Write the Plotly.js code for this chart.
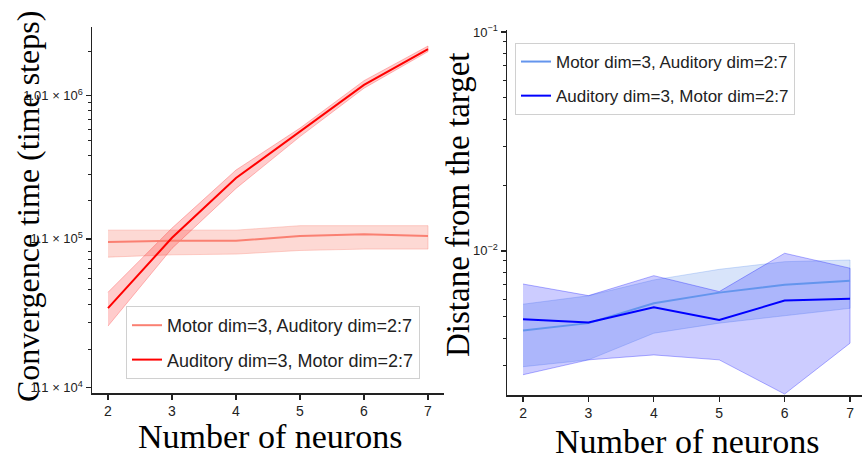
<!DOCTYPE html>
<html>
<head>
<meta charset="utf-8">
<script src="https://cdn.plot.ly/plotly-3.0.1.min.js"></script>
<style>
html,body{margin:0;padding:0;background:#fff;width:862px;height:459px;overflow:hidden;}
#chart{width:862px;height:459px;overflow:hidden;}
</style>
</head>
<body>
<div id="chart"></div>
<script>
// ---- data ----
const neurons = [2, 3, 4, 5, 6, 7];

// Left panel: convergence time (time steps)
const motorTime      = [105000, 107000, 107000, 115000, 118000, 115000];
const motorTimeUp    = [126000, 126000, 126000, 135000, 135000, 135000];
const motorTimeLo    = [83000, 86000, 87000, 92000, 94000, 94000];
const audTime        = [37700, 112000, 282000, 577000, 1190000, 2070000];
const audTimeUp      = [48200, 130000, 319000, 610000, 1270000, 2170000];
const audTimeLo      = [28600, 95000, 240000, 535000, 1130000, 1990000];

// Right panel: distance from the target
const motorDist      = [0.00433, 0.00468, 0.00577, 0.00645, 0.00700, 0.00730];
const motorDistUp    = [0.00571, 0.00624, 0.00737, 0.00824, 0.00893, 0.00909];
const motorDistLo    = [0.00296, 0.00318, 0.00421, 0.00468, 0.00507, 0.00547];
const audDist        = [0.00487, 0.00471, 0.00553, 0.00484, 0.00593, 0.00604];
const audDistUp      = [0.00706, 0.00625, 0.00771, 0.00652, 0.00976, 0.00834];
const audDistLo      = [0.00272, 0.00318, 0.00335, 0.00318, 0.00222, 0.00379];

const seriesNames = ["Motor dim=3, Auditory dim=2:7", "Auditory dim=3, Motor dim=2:7"];
const leftTickVals = [11000, 110000, 1010000];
const leftTickText = ["1.1 × 10<sup>4</sup>", "1.1 × 10<sup>5</sup>", "1.01 × 10<sup>6</sup>"];
const rightTickVals = [0.01, 0.1];
const rightTickText = ["10<sup>−2</sup>", "10<sup>−1</sup>"];

// ---- helpers ----
function band(x, up, lo, fill, edge, xa, ya) {
  return {
    x: x.concat(x.slice().reverse()),
    y: up.concat(lo.slice().reverse()),
    type: 'scatter', mode: 'lines', fill: 'toself',
    fillcolor: fill, line: {color: edge, width: 1},
    hoverinfo: 'skip', showlegend: false, xaxis: xa, yaxis: ya
  };
}
function line(x, y, color, name, xa, ya, leg) {
  return {x: x, y: y, type: 'scatter', mode: 'lines', name: name,
    line: {color: color, width: 2}, xaxis: xa, yaxis: ya, legend: leg, legendgroup: name + leg};
}
function decadeMinors(from, to) {
  const out = [];
  for (let e = from; e <= to; e++) for (let m = 2; m <= 9; m++) out.push(m * Math.pow(10, e));
  return out;
}

const traces = [
  band(neurons, motorTimeUp, motorTimeLo, 'rgba(250,128,114,0.3)', 'rgba(250,128,114,0.35)', 'x', 'y'),
  band(neurons, audTimeUp, audTimeLo, 'rgba(255,0,0,0.2)', 'rgba(255,0,0,0.25)', 'x', 'y'),
  line(neurons, motorTime, '#fa8072', seriesNames[0], 'x', 'y', 'legend'),
  line(neurons, audTime, '#ff0000', seriesNames[1], 'x', 'y', 'legend'),
  band(neurons, motorDistUp, motorDistLo, 'rgba(100,149,237,0.25)', 'rgba(100,149,237,0.3)', 'x2', 'y2'),
  band(neurons, audDistUp, audDistLo, 'rgba(0,0,255,0.2)', 'rgba(0,0,255,0.3)', 'x2', 'y2'),
  line(neurons, motorDist, '#6495ed', seriesNames[0], 'x2', 'y2', 'legend2'),
  line(neurons, audDist, '#0000ff', seriesNames[1], 'x2', 'y2', 'legend2')
];

const W = 862, H = 459;
const sans = '"Liberation Sans", Arial, sans-serif';
const xTickFont = {family: sans, size: 14, color: '#222'};
const yTickFont = {family: sans, size: 13, color: '#222'};
const serifFam = '"Liberation Serif", "DejaVu Serif", serif';
const axBase = {showgrid: false, zeroline: false, showline: true, linecolor: '#222', linewidth: 1.5,
  ticks: 'outside', ticklen: 5, tickwidth: 1.2, tickcolor: '#222'};
const minorBase = {ticklen: 3, tickwidth: 1, tickcolor: '#222', ticks: 'outside'};

const layout = {
  width: W, height: H,
  margin: {l: 0, r: 0, t: 0, b: 0},
  paper_bgcolor: '#fff', plot_bgcolor: '#fff',
  xaxis: Object.assign({}, axBase, {domain: [92 / W, 444 / W], range: [1.75, 7.25],
    tickvals: neurons, anchor: 'y', tickfont: xTickFont}),
  yaxis: Object.assign({}, axBase, {domain: [1 - 393 / H, 1 - 27 / H], type: 'log', range: [4.007, 6.464],
    tickvals: leftTickVals, ticktext: leftTickText, anchor: 'x', tickfont: yTickFont,
    minor: Object.assign({tickvals: decadeMinors(4, 6).filter(v => v < 2.9e6)}, minorBase)}),
  xaxis2: Object.assign({}, axBase, {domain: [507 / W, 1], range: [1.755, 7.183],
    tickvals: neurons, anchor: 'y2', tickfont: xTickFont}),
  yaxis2: Object.assign({}, axBase, {domain: [1 - 395 / H, 1 - 30 / H], type: 'log', range: [-2.658, -0.991],
    tickvals: rightTickVals, ticktext: rightTickText, anchor: 'x2', tickfont: yTickFont,
    minor: Object.assign({tickvals: decadeMinors(-3, -2).filter(v => v > 0.0022)}, minorBase)}),
  legend: {x: 126 / W, y: 1 - 306 / H, xanchor: 'left', yanchor: 'top', bgcolor: 'rgba(255,255,255,0.8)',
    bordercolor: '#d0d0d0', borderwidth: 1, font: {family: sans, size: 18, color: '#222'}, itemwidth: 30, tracegroupgap: 8},
  legend2: {x: 515 / W, y: 1 - 43 / H, xanchor: 'left', yanchor: 'top', bgcolor: 'rgba(255,255,255,0.8)',
    bordercolor: '#d0d0d0', borderwidth: 1, font: {family: sans, size: 17, color: '#222'}, itemwidth: 30, tracegroupgap: 9},
  annotations: [
    {text: 'Convergence time (time steps)', xref: 'paper', yref: 'paper', x: 28 / W, y: 1 - 207 / H,
      xanchor: 'center', yanchor: 'middle', textangle: -90, showarrow: false, font: {family: serifFam, size: 32, color: '#000'}},
    {text: 'Number of neurons', xref: 'paper', yref: 'paper', x: 270 / W, y: 1 - 436 / H,
      xanchor: 'center', yanchor: 'middle', showarrow: false, font: {family: serifFam, size: 34, color: '#000'}},
    {text: 'Distane from the target', xref: 'paper', yref: 'paper', x: 458 / W, y: 1 - 205 / H,
      xanchor: 'center', yanchor: 'middle', textangle: -90, showarrow: false, font: {family: serifFam, size: 33, color: '#000'}},
    {text: 'Number of neurons', xref: 'paper', yref: 'paper', x: 687 / W, y: 1 - 441 / H,
      xanchor: 'center', yanchor: 'middle', showarrow: false, font: {family: serifFam, size: 34, color: '#000'}}
  ]
};

Plotly.newPlot('chart', traces, layout, {displayModeBar: false, staticPlot: true});
</script>
</body>
</html>
